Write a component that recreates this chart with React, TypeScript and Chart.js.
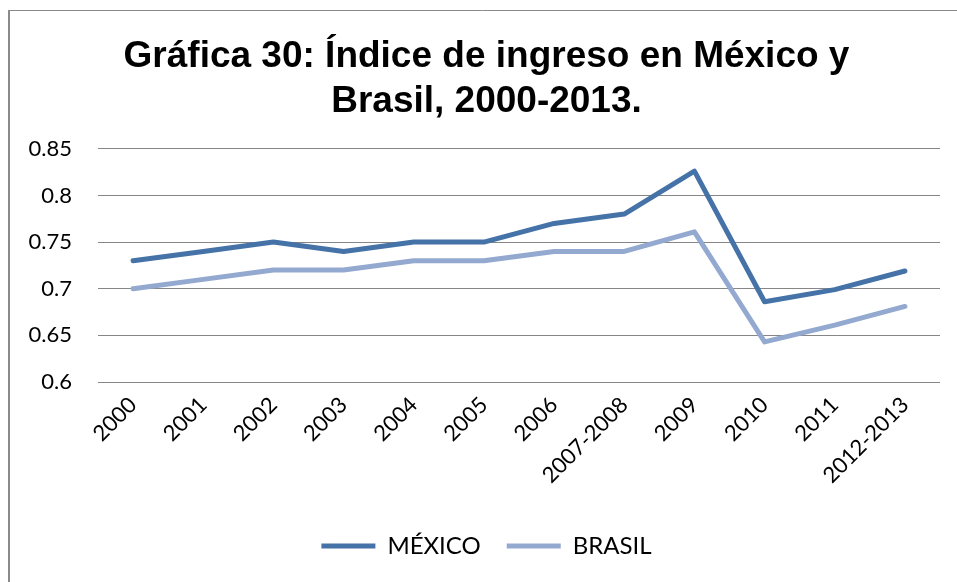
import React, { useEffect, useRef } from "react";
import { Chart, registerables } from "chart.js";

Chart.register(...registerables);

const categories = ["2000", "2001", "2002", "2003", "2004", "2005", "2006", "2007-2008", "2009", "2010", "2011", "2012-2013"];
const mexico = [0.73, 0.74, 0.75, 0.74, 0.75, 0.75, 0.77, 0.78, 0.826, 0.686, 0.699, 0.719];
const brasil = [0.70, 0.71, 0.72, 0.72, 0.73, 0.73, 0.74, 0.74, 0.761, 0.643, 0.661, 0.681];
const titleLines = ["Gráfica 30: Índice de ingreso en México y", "Brasil, 2000-2013."];
const yMin = 0.6;
const yMax = 0.85;
const yStep = 0.05;

const framePlugin = {
  id: "frame",
  afterDraw(chart: any) {
    const ctx = chart.ctx;
    ctx.save();
    ctx.strokeStyle = "#8a8a8a";
    ctx.lineWidth = 2;
    ctx.beginPath();
    ctx.moveTo(9, 10);
    ctx.lineTo(9, 582);
    ctx.stroke();
    ctx.lineWidth = 1;
    ctx.beginPath();
    ctx.moveTo(8, 10.5);
    ctx.lineTo(957, 10.5);
    ctx.stroke();
    ctx.restore();
  },
};

export default function App() {
  const ref = useRef<HTMLCanvasElement | null>(null);
  useEffect(() => {
    if (!ref.current) return;
    const chart = new Chart(ref.current, {
      type: "line",
      data: {
        labels: categories,
        datasets: [
          {
            label: "MÉXICO",
            data: mexico,
            borderColor: "#4572A7",
            backgroundColor: "#4572A7",
            borderWidth: 5,
            pointRadius: 0,
            borderCapStyle: "round",
            borderJoinStyle: "round",
            tension: 0,
          },
          {
            label: "BRASIL",
            data: brasil,
            borderColor: "#93A9CF",
            backgroundColor: "#93A9CF",
            borderWidth: 5,
            pointRadius: 0,
            borderCapStyle: "round",
            borderJoinStyle: "round",
            tension: 0,
          },
        ],
      },
      options: {
        responsive: false,
        animation: false,
        layout: { padding: { left: 16, right: 0, top: 0, bottom: 14 } },
        font: { family: "Lato" },
        plugins: {
          title: {
            display: true,
            text: titleLines,
            color: "#000",
            font: { family: "Liberation Sans", weight: "bold", size: 37, lineHeight: 1.2 },
            padding: { top: 35, bottom: 25 },
          },
          legend: {
            position: "bottom",
            labels: {
              color: "#000",
              font: { family: "Lato", size: 24 },
              usePointStyle: true,
              pointStyle: "line",
              pointStyleWidth: 54,
              padding: 26,
            },
          },
          tooltip: { enabled: false },
        },
        scales: {
          x: {
            offset: true,
            grid: { display: false },
            border: { display: false },
            afterFit: (scale: any) => {
              scale.height = 126;
            },
            ticks: {
              color: "#000",
              font: { family: "Lato", size: 22 },
              maxRotation: 45,
              minRotation: 45,
              padding: 2,
              autoSkip: false,
            },
          },
          y: {
            min: yMin,
            max: yMax,
            border: { display: false },
            grid: { color: "#868686", lineWidth: 1, drawTicks: false },
            afterFit: (scale: any) => {
              scale.width = 82;
            },
            ticks: {
              stepSize: yStep,
              color: "#000",
              font: { family: "Lato", size: 22 },
              padding: 26,
              callback: (v: any) => String(Math.round(Number(v) * 100) / 100),
            },
          },
          yRight: {
            position: "right",
            display: true,
            grid: { display: false, drawTicks: false },
            border: { display: false },
            ticks: { display: false },
            afterFit: (scale: any) => {
              scale.width = 17;
            },
          },
        },
      },
      plugins: [framePlugin],
    });
    return () => chart.destroy();
  }, []);
  return (
    <canvas
      ref={ref}
      width={957}
      height={582}
      style={{ position: "absolute", left: 0, top: 0, display: "block", background: "#fff" }}
    />
  );
}
